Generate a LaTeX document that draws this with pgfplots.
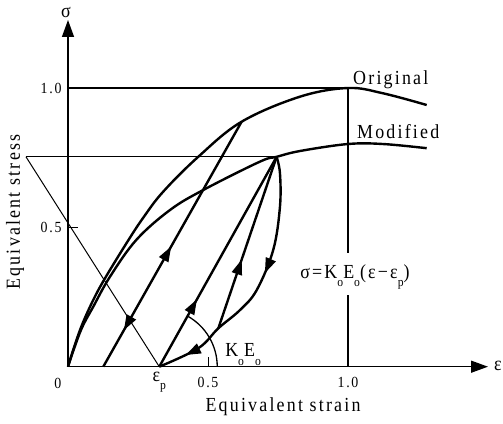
\documentclass[border=0pt]{standalone}
\usepackage{fontspec}
\setmainfont{Liberation Serif}
\newfontfamily\lbl{Liberation Serif}[FakeStretch=0.9,LetterSpace=11]
\usepackage{pgfplots}
\pgfplotsset{compat=1.18}
\usetikzlibrary{arrows.meta,decorations.markings}

\newcommand\bigtxt{\fontsize{20}{22}\selectfont\lbl}
\newcommand\ticktxt{\fontsize{15.5}{16}\selectfont\lbl}
\newcommand\sub[1]{\raisebox{-0.42em}{\fontsize{13}{13}\selectfont\lbl #1}}

\tikzset{
  tip/.tip={Triangle[length=15bp,width=11bp,line width=0pt]},
  curve/.style={line width=2.4bp, black, no marks},
}

\begin{document}
\begin{tikzpicture}
\begin{axis}[
  scale only axis, width=420bp, height=346.7bp,
  xmin=0, xmax=1.5, ymin=0, ymax=1.244,
  axis lines=left,
  axis line style={line width=1.4bp, -{Triangle[length=17bp,width=12bp]}},
  xtick={0.5,1}, xticklabels={0.5,1.0},
  ytick={0.5,1}, yticklabels={0.5,1.0},
  tick align=inside, major tick length=10bp,
  tick style={line width=1bp, black},
  ticklabel style={font=\ticktxt},
  xticklabel style={yshift=-7bp},
  yticklabel style={xshift=-3bp},
  xlabel={Equivalent strain}, ylabel={Equivalent stress},
  label style={font=\bigtxt},
  xlabel style={at={(axis description cs:0.512,-0.1166)}, anchor=center},
  ylabel style={at={(axis description cs:-0.126,0.446)}, anchor=center},
  clip=false,
]
\coordinate (O) at (axis cs:0,0);

% reference lines
\addplot[line width=1.4bp, no marks] coordinates {(0,1) (1,1)};
\addplot[line width=1.4bp, no marks] coordinates {(1,0) (1,0.257)};
\addplot[line width=1.4bp, no marks] coordinates {(1,0.408) (1,1)};
\addplot[line width=1.2bp, no marks] coordinates {(-0.15,0.753) (0.745,0.753)};
\addplot[line width=1bp, no marks] coordinates {(-0.15,0.753) (0.326,0)};

% original stress-strain curve
\addplot[curve, smooth, tension=0.6] coordinates {
  (0,0) (0.02,0.065) (0.05,0.15) (0.09,0.239) (0.132,0.317) (0.21,0.445)
  (0.269,0.535) (0.34,0.628) (0.465,0.753) (0.62,0.879) (0.829,0.969)
  (1.0,1.0) (1.125,0.981) (1.281,0.939)};

% modified stress-strain curve
\addplot[curve, smooth, tension=0.6] coordinates {
  (0,0) (0.02,0.06) (0.05,0.14) (0.09,0.215) (0.15,0.323) (0.244,0.455)
  (0.364,0.562) (0.483,0.634) (0.686,0.736) (0.745,0.753) (0.829,0.774)
  (1.0,0.799) (1.125,0.799) (1.281,0.784)};

% unloading / reloading from the original curve
\addplot[curve, postaction={decorate}, decoration={markings,
  mark=at position 0.49 with {\arrow{tip}},
  mark=at position 0.15 with {\arrowreversed{tip}}}]
  coordinates {(0.126,0) (0.62,0.879)};

% reloading line from eps_p to the modified peak
\addplot[curve, postaction={decorate}, decoration={markings,
  mark=at position 0.32 with {\arrow{tip}}}]
  coordinates {(0.326,0) (0.745,0.753)};

% reloading line from the intermediate point
\addplot[curve, postaction={decorate}, decoration={markings,
  mark=at position 0.40 with {\arrow{tip}}}]
  coordinates {(0.537,0.138) (0.745,0.753)};

% unloading curve from the modified peak back to eps_p
\addplot[curve, smooth, tension=0.6, postaction={decorate}, decoration={markings,
  mark=at position 0.45 with {\arrow{tip}},
  mark=at position 0.89 with {\arrow{tip}}}]
  coordinates {(0.745,0.753) (0.757,0.694) (0.757,0.574) (0.733,0.419)
  (0.674,0.275) (0.614,0.203) (0.537,0.138) (0.465,0.066) (0.326,0)};

% slope arc K_o E_o
\draw[line width=1.3bp] (axis cs:0.533,0) arc[start angle=0, end angle=61, radius=58bp];

% annotations
\node[font=\bigtxt, anchor=base west, inner sep=0pt] at (axis cs:1.018,1.011) {Original};
\node[font=\bigtxt, anchor=base west, inner sep=0pt] at (axis cs:1.032,0.820) {Modified};
\node[font=\bigtxt, anchor=base west, inner sep=0pt] at (axis cs:0.829,0.318)
  {σ=K\sub{o}E\sub{o}(ε−ε\sub{p})};
\node[font=\bigtxt, anchor=base west, inner sep=0pt] at (axis cs:0.561,0.035)
  {K\sub{o}E\sub{o}};
\node[font=\ticktxt] at (axis cs:-0.036,-0.059) {0};
\node[font=\bigtxt] at (axis cs:0.326,-0.055) {ε\sub{p}};
\node[font=\bigtxt] at (axis cs:-0.007,1.272) {σ};
\node[font=\bigtxt] at (axis cs:1.535,0.003) {ε};
\end{axis}
\pgfresetboundingbox
\path ([shift={(-68bp,-57.3bp)}]O) rectangle ([shift={(435bp,366.7bp)}]O);
\end{tikzpicture}
\end{document}
